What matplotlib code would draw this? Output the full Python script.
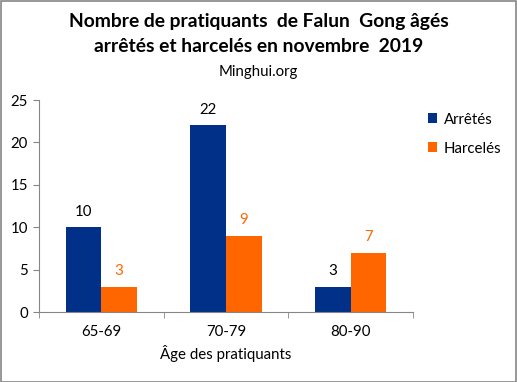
import matplotlib.pyplot as plt
import numpy as np
from matplotlib.patches import Rectangle

categories = ["65-69", "70-79", "80-90"]
arretes = [10, 22, 3]
harceles = [3, 9, 7]
series_names = ["Arrêtés", "Harcelés"]

blue = "#003087"
orange = "#FF6600"
grey = "#868686"

plt.rcParams['font.family'] = ['Lato', 'DejaVu Sans']

fig = plt.figure(figsize=(5.17, 3.82), dpi=100)
ax = fig.add_axes([39 / 517, 1 - 312 / 382, 374 / 517, 212 / 382])

x = np.arange(len(categories))
w = 0.285
b1 = ax.bar(x - w / 2, arretes, w, color=blue, label=series_names[0])
b2 = ax.bar(x + w / 2, harceles, w, color=orange, label=series_names[1])

fs = 10.8
for rect, v in zip(b1, arretes):
    ax.annotate(str(v), (rect.get_x() + rect.get_width() / 2, v), xytext=(0, 6),
                textcoords="offset points", ha="center", va="bottom", fontsize=fs, color="black")
for rect, v in zip(b2, harceles):
    ax.annotate(str(v), (rect.get_x() + rect.get_width() / 2, v), xytext=(0, 6),
                textcoords="offset points", ha="center", va="bottom", fontsize=fs, color=orange)

ax.set_xlim(-0.5, 2.5)
ax.set_ylim(0, 25)
ax.set_yticks(range(0, 26, 5))
ax.set_xticks(x)
ax.set_xticklabels(categories)
ax.set_xticks([-0.5, 0.5, 1.5, 2.5], minor=True)
ax.tick_params(axis="x", which="major", length=0, pad=9, labelsize=fs)
ax.tick_params(axis="x", which="minor", length=4, color=grey, direction="out")
ax.tick_params(axis="y", length=4, color=grey, labelsize=fs, pad=4)

for s in ["top", "right"]:
    ax.spines[s].set_visible(False)
for s in ["left", "bottom"]:
    ax.spines[s].set_color(grey)

ax.set_xlabel("Âge des pratiquants", fontsize=fs, labelpad=5)

fig.text(0.5, 1 - 22 / 382, "Nombre de pratiquants  de Falun  Gong âgés",
         ha="center", va="center", fontsize=13.9, fontweight="bold")
fig.text(0.5, 1 - 47 / 382, "arrêtés et harcelés en novembre  2019",
         ha="center", va="center", fontsize=13.9, fontweight="bold")
fig.text(0.5, 1 - 72 / 382, "Minghui.org", ha="center", va="center", fontsize=fs)

leg = ax.legend(loc="upper left", bbox_to_anchor=(414 / 517, 1 - 99 / 382),
                bbox_transform=fig.transFigure, frameon=False, fontsize=fs,
                handlelength=0.6, handleheight=0.6, handletextpad=0.5, labelspacing=1.0)

fig.patches.append(Rectangle((0.001, 0.001), 0.997, 0.997, transform=fig.transFigure,
                             fill=False, edgecolor=grey, linewidth=1.2))

fig.savefig("out.png", dpi=100)
